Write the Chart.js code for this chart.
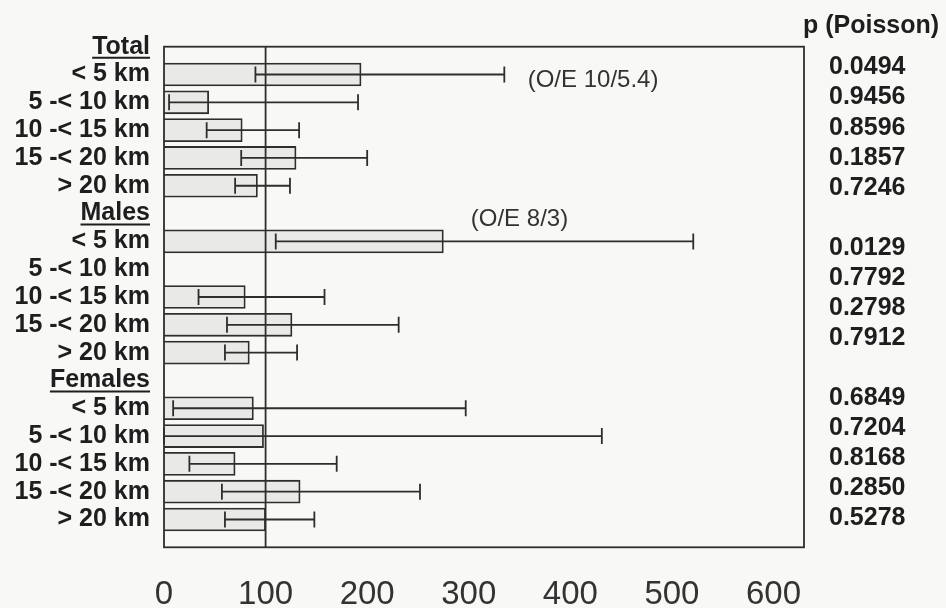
<!DOCTYPE html>
<html>
<head>
<meta charset="utf-8">
<script src="https://cdn.jsdelivr.net/npm/chart.js@4/dist/chart.umd.min.js"></script>
<style>
  html, body { margin: 0; padding: 0; background: #f8f8f6; }
  #wrap { width: 946px; height: 608px; }
</style>
</head>
<body>
<div id="wrap"><canvas id="c" width="946" height="608"></canvas></div>
<script>
// ---- data (ratio observed/expected x 100) ----
const categories = ['Total', '< 5 km', '5 -< 10 km', '10 -< 15 km', '15 -< 20 km', '> 20 km',
                    'Males', '< 5 km', '5 -< 10 km', '10 -< 15 km', '15 -< 20 km', '> 20 km',
                    'Females', '< 5 km', '5 -< 10 km', '10 -< 15 km', '15 -< 20 km', '> 20 km', ''];
const headerRows = ['Total', 'Males', 'Females'];
const ratio = [null, 194, 44, 77, 130, 92,
               null, 275, null, 80, 126, 84,
               null, 88, 98, 70, 134, 100, null];
const lower = [null, 90, 5, 42, 76, 70,
               null, 110, null, 34, 62, 60,
               null, 9, 0, 25, 57, 60, null];
const upper = [null, 335, 191, 133, 200, 124,
               null, 521, null, 158, 231, 131,
               null, 297, 431, 170, 252, 148, null];
const pHeader = 'p (Poisson)';
const pValues = ['0.0494', '0.9456', '0.8596', '0.1857', '0.7246', '',
                 '0.0129', '0.7792', '0.2798', '0.7912', '',
                 '0.6849', '0.7204', '0.8168', '0.2850', '0.5278'];
const xTicks = [0, 100, 200, 300, 400, 500, 600];
const annotations = [
  { text: '(O/E 10/5.4)', row: 1, x: 358, dy: 5.5 },
  { text: '(O/E 8/3)', row: 6, x: 302, dy: 6 }
];

const FONT = "'Liberation Sans', Arial, Helvetica, sans-serif";
const INK = '#1e1e1e';
const LINE = '#2e2e2e';

const overlay = {
  id: 'overlay',
  afterDatasetsDraw(chart) {
    const ctx = chart.ctx;
    const xs = chart.scales.x, ys = chart.scales.y;
    const a = chart.chartArea;
    ctx.save();
    // reference line at 100
    ctx.strokeStyle = LINE;
    ctx.lineWidth = 1.8;
    const x100 = xs.getPixelForValue(100);
    ctx.beginPath();
    ctx.moveTo(x100, a.top); ctx.lineTo(x100, a.bottom);
    ctx.stroke();
    // error bars
    ctx.lineWidth = 1.8;
    for (let i = 0; i < categories.length; i++) {
      if (lower[i] == null || upper[i] == null) continue;
      const y = ys.getPixelForValue(i);
      const x1 = xs.getPixelForValue(lower[i]);
      const x2 = xs.getPixelForValue(upper[i]);
      ctx.beginPath();
      ctx.moveTo(x1, y); ctx.lineTo(x2, y);
      ctx.moveTo(x1, y - 8); ctx.lineTo(x1, y + 8);
      ctx.moveTo(x2, y - 8); ctx.lineTo(x2, y + 8);
      ctx.stroke();
    }
    // frame
    ctx.lineWidth = 1.8;
    ctx.strokeRect(a.left, a.top, a.right - a.left, a.bottom - a.top);
    // annotations
    ctx.fillStyle = '#333333';
    ctx.font = "24px " + FONT;
    ctx.textAlign = 'left';
    ctx.textBaseline = 'middle';
    annotations.forEach(an => {
      ctx.fillText(an.text, xs.getPixelForValue(an.x), ys.getPixelForValue(an.row) + an.dy);
    });
    // underline group headers
    ctx.font = "bold 25px " + FONT;
    ctx.strokeStyle = INK;
    ctx.lineWidth = 2;
    const labelRight = a.left - 14;
    for (let i = 0; i < categories.length; i++) {
      if (!headerRows.includes(categories[i])) continue;
      const w = ctx.measureText(categories[i]).width;
      const y = ys.getPixelForValue(i) + 11;
      ctx.beginPath();
      ctx.moveTo(labelRight - w, y); ctx.lineTo(labelRight, y);
      ctx.stroke();
    }
    // p-value column
    ctx.fillStyle = INK;
    ctx.font = "bold 25px " + FONT;
    ctx.textBaseline = 'middle';
    const colX = a.right + 25;
    ctx.fillText(pHeader, a.right - 1, 26);
    const top = 67.5, lh = 30.07;
    pValues.forEach((p, k) => { if (p) ctx.fillText(p, colX, top + k * lh); });
    ctx.restore();
  }
};

new Chart(document.getElementById('c'), {
  type: 'bar',
  data: {
    labels: categories,
    datasets: [{
      data: ratio,
      backgroundColor: '#e9e9e7',
      borderColor: LINE,
      borderWidth: 1.8,
      barThickness: 23
    }]
  },
  options: {
    indexAxis: 'y',
    responsive: false,
    animation: false,
    devicePixelRatio: 1,
    layout: { padding: { top: 46.7, right: 142, bottom: 0, left: 0 } },
    plugins: { legend: { display: false }, tooltip: { enabled: false } },
    scales: {
      x: {
        type: 'linear',
        min: 0,
        max: 630,
        afterBuildTicks(scale) { scale.ticks = xTicks.map(v => ({ value: v })); },
        afterFit(scale) { scale.height = 608 - 547.3; },
        grid: { display: false, drawTicks: false },
        border: { display: false },
        ticks: { color: '#333333', font: { family: FONT, size: 33 }, padding: 28, maxRotation: 0 }
      },
      y: {
        type: 'category',
        offset: false,
        afterFit(scale) { scale.width = 164; },
        grid: { display: false, drawTicks: false },
        border: { display: false },
        ticks: { autoSkip: false, color: INK, font: { family: FONT, size: 25, weight: 'bold' }, padding: 14 }
      }
    }
  },
  plugins: [overlay]
});
</script>
</body>
</html>
